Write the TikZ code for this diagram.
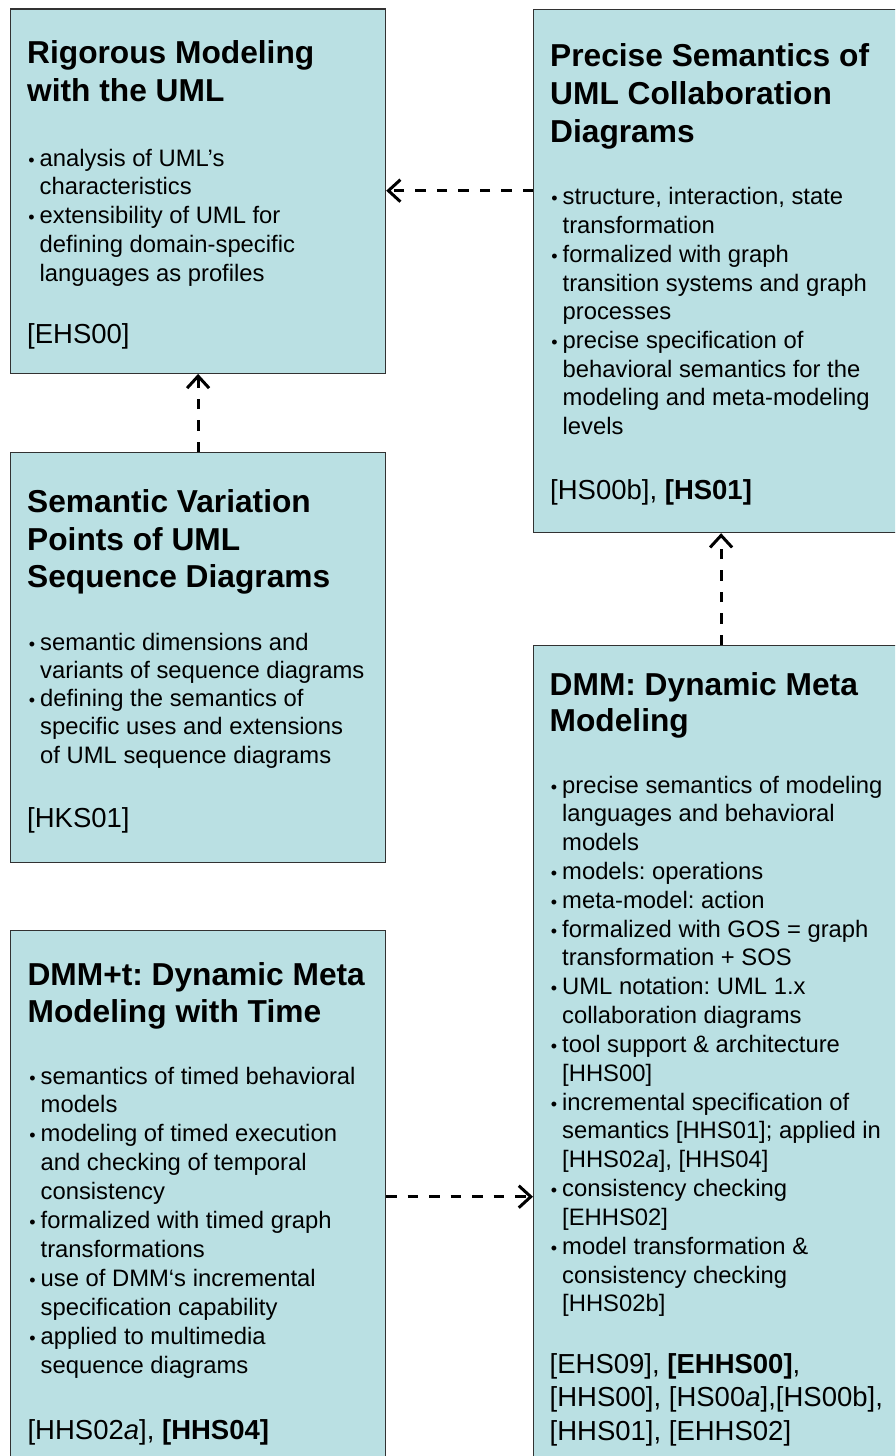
\documentclass[tikz,border=0pt]{standalone}
\usepackage{fontspec}
\setmainfont{Liberation Sans}
\usetikzlibrary{arrows.meta}
\frenchspacing

\definecolor{boxfill}{RGB}{186,224,227}
\definecolor{boxline}{RGB}{50,50,50}

% a block of lines set at a fixed line pitch; its baseline is the first line
\newcommand{\linestack}[2]{\vtop{\baselineskip=#1pt\lineskiplimit=-100pt\relax #2}}
\newcommand{\bulletmark}{{\fontsize{18}{18}\selectfont\textbullet}}
\newcommand{\bulline}[1]{\hbox{\llap{\bulletmark\hspace{5pt}}#1}}
\newcommand{\plainline}[1]{\hbox{#1}}

\tikzset{
  topic/.style={rectangle, draw=boxline, line width=1.2pt, fill=boxfill,
    inner sep=0pt, anchor=north west, minimum width=375pt},
  titletext/.style={anchor=base west, inner sep=0pt,
    font=\fontsize{31.7}{38}\selectfont\bfseries},
  bodytext/.style={anchor=base west, inner sep=0pt,
    font=\fontsize{23.8}{28.7}\selectfont},
  reftext/.style={anchor=base west, inner sep=0pt,
    font=\fontsize{27.5}{33.5}\selectfont},
  dep/.style={line width=3pt, dash pattern=on 10.5pt off 11pt,
    -{Straight Barb[length=12pt,width=22pt]}}
}

\begin{document}
\frenchspacing
\begin{tikzpicture}[x=1pt,y=-1pt]
\useasboundingbox (0,0) rectangle (895,1456);
\clip (0,0) rectangle (895,1456);

% ---------- boxes ----------
\node[topic, minimum height=364.4pt] (a) at (10,8.3) {};
\node[topic, minimum height=523.4pt] (b) at (533,8.6) {};
\node[topic, minimum height=409.7pt] (c) at (10,452) {};
\node[topic, minimum height=560pt]   (d) at (10,929.6) {};
\node[topic, minimum height=850pt]   (e) at (533,645) {};

% ---------- Rigorous Modeling ----------
\node[titletext] (a-title) at (27,63.3) {\linestack{38}{%
  \plainline{Rigorous Modeling}\plainline{with the UML}}};
\node[bodytext] (a-list) at (39.5,166) {\linestack{28.75}{%
  \bulline{analysis of UML’s}
  \plainline{characteristics}
  \bulline{extensibility of UML for}
  \plainline{defining domain-specific}
  \plainline{languages as profiles}}};
\node[reftext] (a-ref) at (27,343) {[EHS00]};

% ---------- Precise Semantics ----------
\node[titletext] (b-title) at (550,66.5) {\linestack{38.2}{%
  \plainline{Precise Semantics of}\plainline{UML Collaboration}\plainline{Diagrams}}};
\node[bodytext] (b-list) at (562.5,204.9) {\linestack{28.7}{%
  \bulline{structure, interaction, state}
  \plainline{transformation}
  \bulline{formalized with graph}
  \plainline{transition systems and graph}
  \plainline{processes}
  \bulline{precise specification of}
  \plainline{behavioral semantics for the}
  \plainline{modeling and meta-modeling}
  \plainline{levels}}};
\node[reftext] (b-ref) at (550,499.3) {[HS00b], \textbf{[HS01]}};

% ---------- Semantic Variation Points ----------
\node[titletext] (c-title) at (27,512.7) {\linestack{37.5}{%
  \plainline{Semantic Variation}\plainline{Points of UML}\plainline{Sequence Diagrams}}};
\node[bodytext] (c-list) at (40,650) {\linestack{28.3}{%
  \bulline{semantic dimensions and}
  \plainline{variants of sequence diagrams}
  \bulline{defining the semantics of}
  \plainline{specific uses and extensions}
  \plainline{of UML sequence diagrams}}};
\node[reftext] (c-ref) at (27,827) {[HKS01]};

% ---------- DMM+t ----------
\node[titletext] (d-title) at (27.4,985) {\linestack{37.6}{%
  \plainline{DMM+t: Dynamic Meta}\plainline{Modeling with Time}}};
\node[bodytext] (d-list) at (40.5,1084) {\linestack{28.9}{%
  \bulline{semantics of timed behavioral}
  \plainline{models}
  \bulline{modeling of timed execution}
  \plainline{and checking of temporal}
  \plainline{consistency}
  \bulline{formalized with timed graph}
  \plainline{transformations}
  \bulline{use of DMM‘s incremental}
  \plainline{specification capability}
  \bulline{applied to multimedia}
  \plainline{sequence diagrams}}};
\node[reftext] (d-ref) at (27.4,1439.7) {[HHS02\textit{a}], \textbf{[HHS04]}};

% ---------- DMM ----------
\node[titletext] (e-title) at (549.5,695) {\linestack{36.7}{%
  \plainline{DMM: Dynamic Meta}\plainline{Modeling}}};
\node[bodytext] (e-list) at (562,793) {\linestack{28.83}{%
  \bulline{precise semantics of modeling}
  \plainline{languages and behavioral}
  \plainline{models}
  \bulline{models: operations}
  \bulline{meta-model: action}
  \bulline{formalized with GOS = graph}
  \plainline{transformation + SOS}
  \bulline{UML notation: UML 1.x}
  \plainline{collaboration diagrams}
  \bulline{tool support \& architecture}
  \plainline{[HHS00]}
  \bulline{incremental specification of}
  \plainline{semantics [HHS01]; applied in}
  \plainline{[HHS02\textit{a}], [HHS04]}
  \bulline{consistency checking}
  \plainline{[EHHS02]}
  \bulline{model transformation \&}
  \plainline{consistency checking}
  \plainline{[HHS02b]}}};
\node[reftext] (e-ref) at (549.5,1373) {\linestack{33.5}{%
  \plainline{[EHS09], \textbf{[EHHS00]},}
  \plainline{[HHS00], [HS00\textit{a}],[HS00b],}
  \plainline{[HHS01], [EHHS02]}}};

% ---------- dependencies ----------
\draw[dep] (b.west |- 0,190.7) -- (a.east |- 0,190.7);
\draw[dep] (c.north) -- (a.south);
\draw[dep] (e.north) -- (b.south);
\draw[dep] (d.east |- 0,1196.7) -- (e.west |- 0,1196.7);
\end{tikzpicture}
\end{document}
